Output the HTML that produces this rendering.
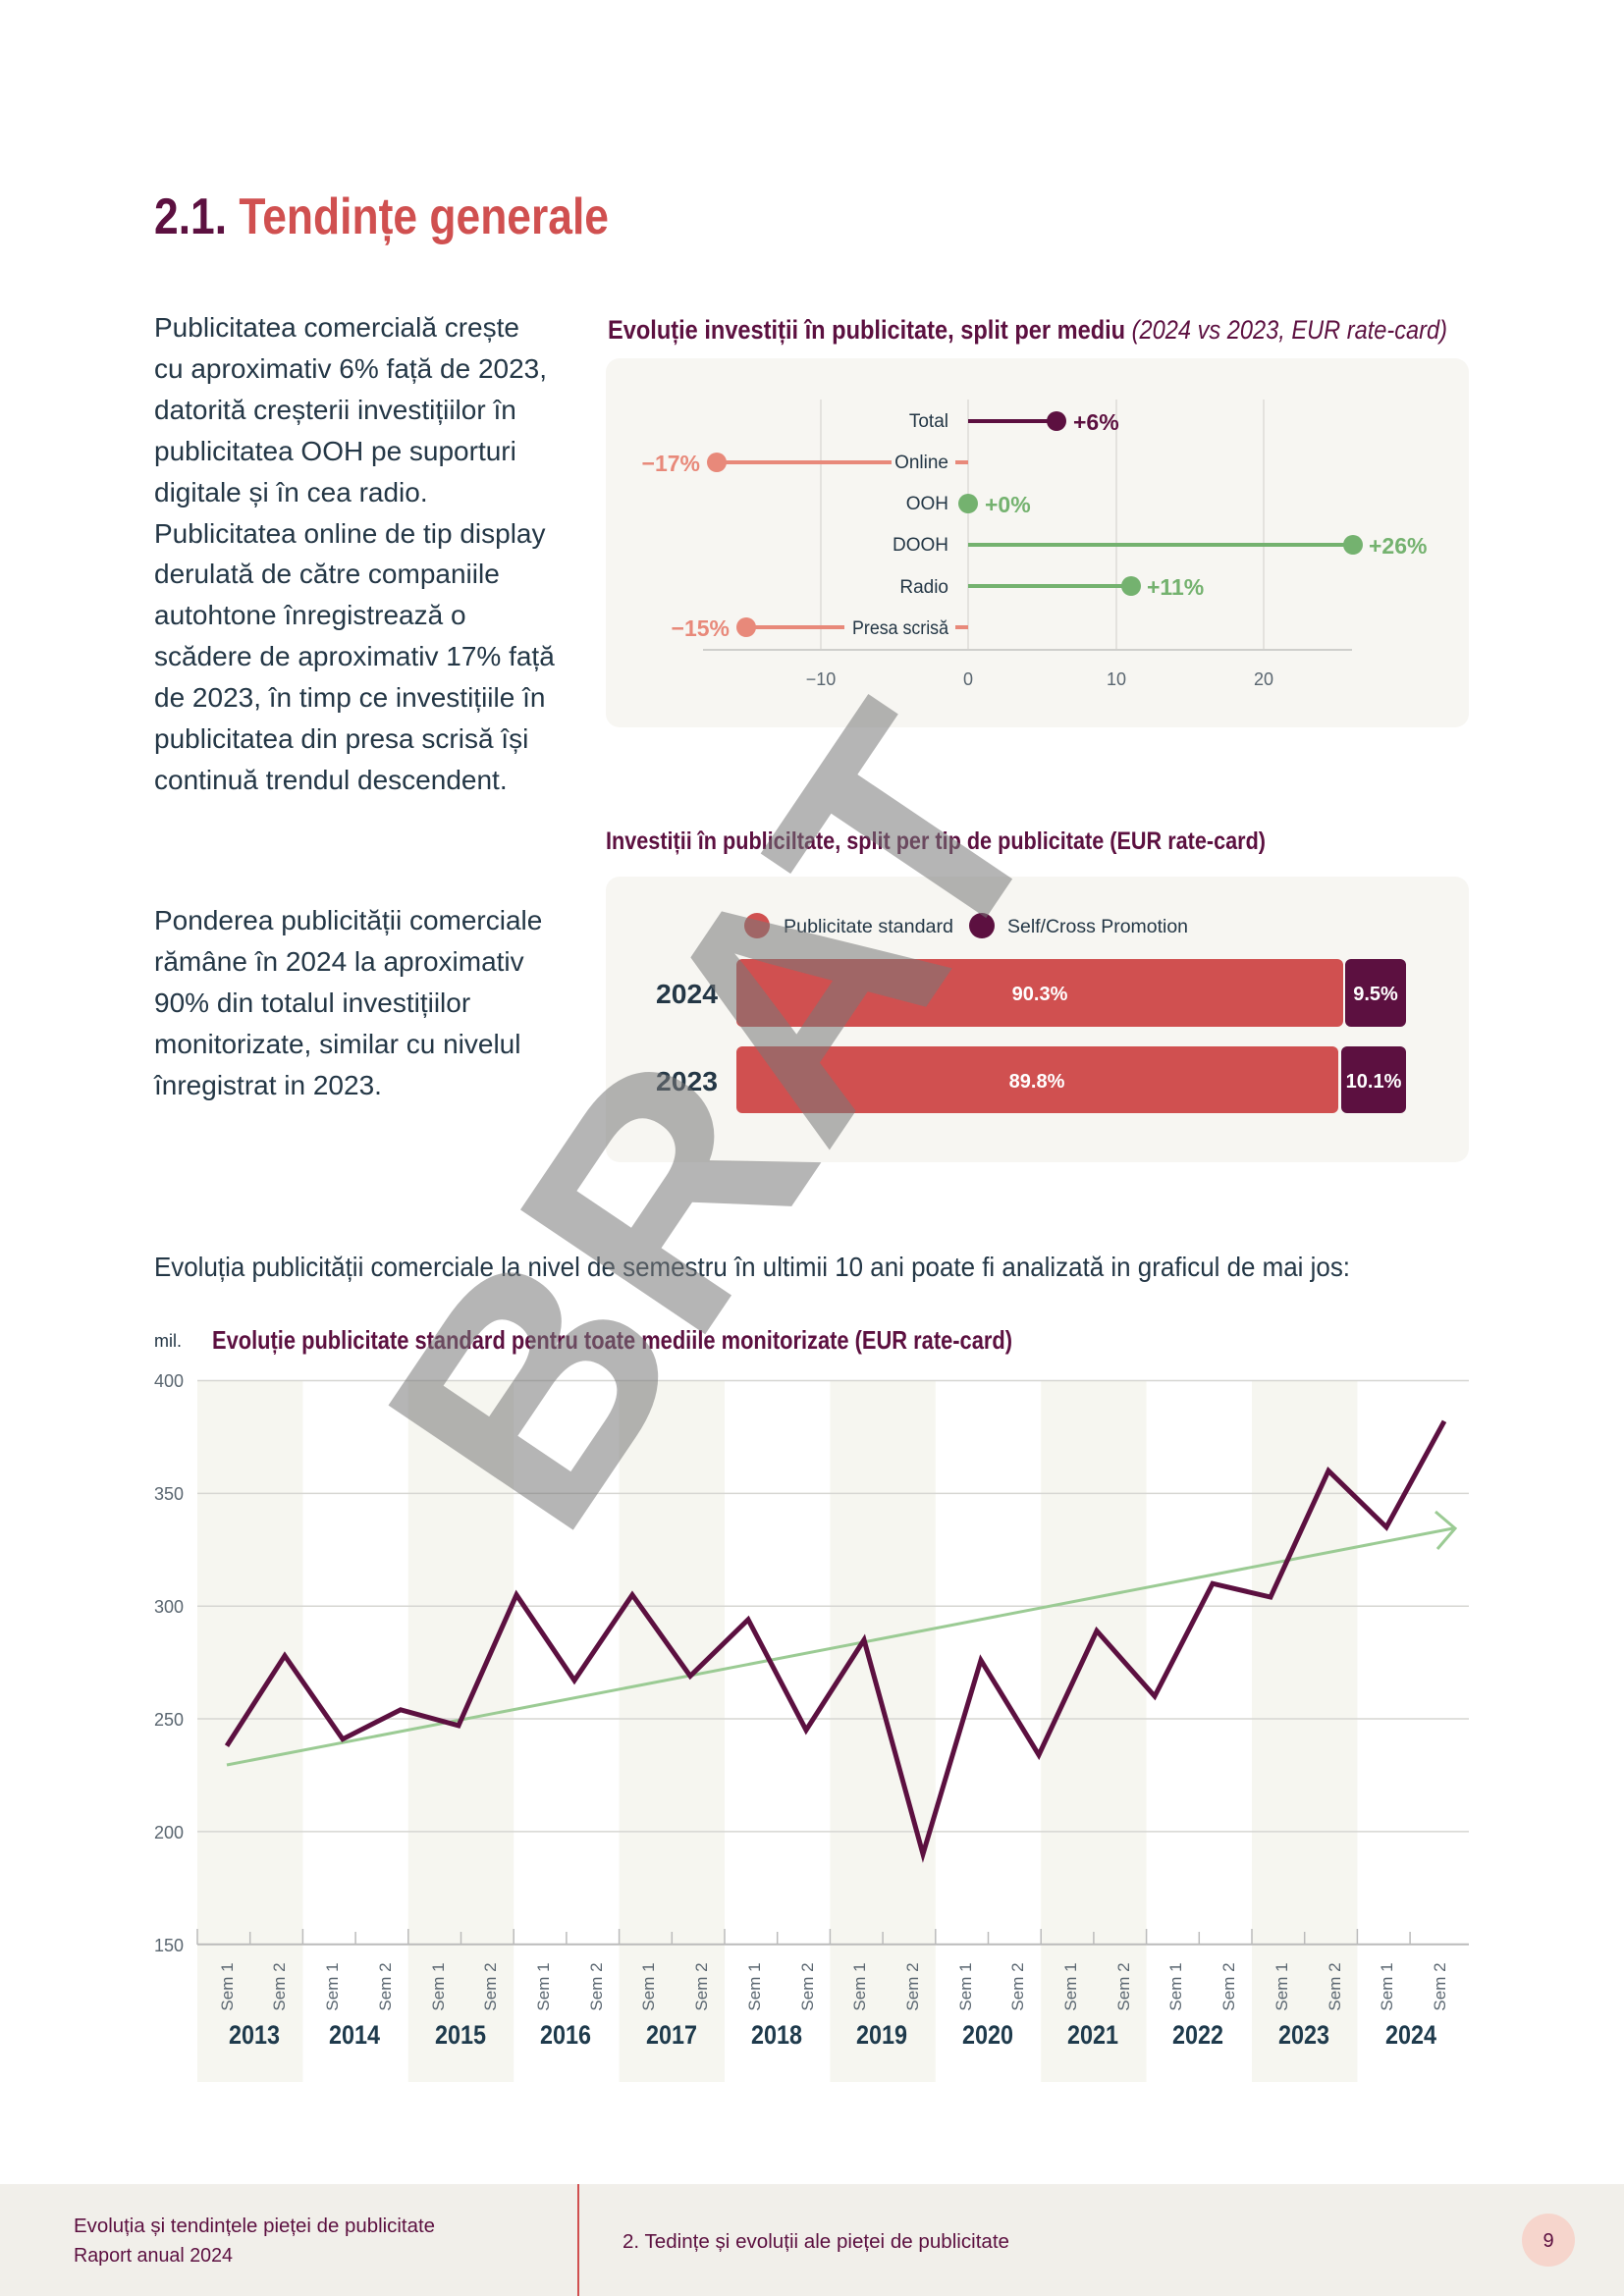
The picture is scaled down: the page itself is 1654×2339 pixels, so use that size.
<!DOCTYPE html>
<html><head><meta charset="utf-8"><style>
html,body{margin:0;padding:0;background:#fff}
svg{display:block}
text{font-family:"Liberation Sans Narrow","Liberation Sans",sans-serif}
</style></head><body>
<svg width="1654" height="2339" viewBox="0 0 1654 2339" xmlns="http://www.w3.org/2000/svg">
<text x="157" y="238" font-size="52" font-weight="bold" fill="#5c1040" textLength="463" lengthAdjust="spacingAndGlyphs">2.1. <tspan fill="#d05050">Tendințe generale</tspan></text>

<g font-size="28" fill="#243746">
<text x="157" y="343">Publicitatea comercială crește</text>
<text x="157" y="385">cu aproximativ 6% față de 2023,</text>
<text x="157" y="427">datorită creșterii investițiilor în</text>
<text x="157" y="469">publicitatea OOH pe suporturi</text>
<text x="157" y="511">digitale și în cea radio.</text>
<text x="157" y="553">Publicitatea online de tip display</text>
<text x="157" y="594">derulată de către companiile</text>
<text x="157" y="636">autohtone înregistrează o</text>
<text x="157" y="678">scădere de aproximativ 17% față</text>
<text x="157" y="720">de 2023, în timp ce investițiile în</text>
<text x="157" y="762">publicitatea din presa scrisă își</text>
<text x="157" y="804">continuă trendul descendent.</text>
<text x="157" y="947">Ponderea publicității comerciale</text>
<text x="157" y="989">rămâne în 2024 la aproximativ</text>
<text x="157" y="1031">90% din totalul investițiilor</text>
<text x="157" y="1073">monitorizate, similar cu nivelul</text>
<text x="157" y="1115">înregistrat in 2023.</text>
<text x="157" y="1300" textLength="1218" lengthAdjust="spacingAndGlyphs">Evoluția publicității comerciale la nivel de semestru în ultimii 10 ani poate fi analizată in graficul de mai jos:</text>
</g>

<text x="619" y="345" font-size="27" fill="#5c1040" font-weight="bold" textLength="855" lengthAdjust="spacingAndGlyphs">Evoluție investiții în publicitate, split per mediu <tspan font-weight="normal" font-style="italic">(2024 vs 2023, EUR rate-card)</tspan></text>
<rect x="617" y="365" width="879" height="376" rx="14" fill="#f7f6f2"/>
<g stroke="#dddcd8" stroke-width="1.5">
<line x1="836" y1="407" x2="836" y2="662"/><line x1="986" y1="407" x2="986" y2="662"/>
<line x1="1137" y1="407" x2="1137" y2="662"/><line x1="1287" y1="407" x2="1287" y2="662"/>
</g>
<line x1="716" y1="662" x2="1377" y2="662" stroke="#cfcfcc" stroke-width="2"/>
<g font-size="18" fill="#5a6670" text-anchor="middle">
<text x="836" y="698">−10</text><text x="986" y="698">0</text><text x="1137" y="698">10</text><text x="1287" y="698">20</text>
</g>
<g font-size="19" fill="#243746" text-anchor="end">
<text x="966" y="435">Total</text><text x="966" y="477">Online</text><text x="966" y="519">OOH</text>
<text x="966" y="561">DOOH</text><text x="966" y="604">Radio</text><text x="966" y="646" textLength="98" lengthAdjust="spacingAndGlyphs">Presa scrisă</text>
</g>
<line x1="986" y1="429" x2="1076" y2="429" stroke="#5c1040" stroke-width="4"/>
<circle cx="1076" cy="429" r="10" fill="#5c1040"/>
<text x="1093" y="438" font-size="23" font-weight="bold" fill="#5c1040">+6%</text>
<line x1="730" y1="471" x2="908" y2="471" stroke="#e8897a" stroke-width="4"/>
<line x1="973" y1="471" x2="986" y2="471" stroke="#e8897a" stroke-width="4"/>
<circle cx="730" cy="471" r="10" fill="#e8897a"/>
<text x="713" y="480" font-size="23" font-weight="bold" fill="#e8897a" text-anchor="end">−17%</text>
<circle cx="986" cy="513" r="10" fill="#74b26f"/>
<text x="1003" y="522" font-size="23" font-weight="bold" fill="#74b26f">+0%</text>
<line x1="986" y1="555" x2="1378" y2="555" stroke="#74b26f" stroke-width="4"/>
<circle cx="1378" cy="555" r="10" fill="#74b26f"/>
<text x="1394" y="564" font-size="23" font-weight="bold" fill="#74b26f">+26%</text>
<line x1="986" y1="597" x2="1152" y2="597" stroke="#74b26f" stroke-width="4"/>
<circle cx="1152" cy="597" r="10" fill="#74b26f"/>
<text x="1168" y="606" font-size="23" font-weight="bold" fill="#74b26f">+11%</text>
<line x1="760" y1="639" x2="860" y2="639" stroke="#e8897a" stroke-width="4"/>
<line x1="973" y1="639" x2="986" y2="639" stroke="#e8897a" stroke-width="4"/>
<circle cx="760" cy="639" r="10" fill="#e8897a"/>
<text x="743" y="648" font-size="23" font-weight="bold" fill="#e8897a" text-anchor="end">−15%</text>

<text x="617" y="865" font-size="25" font-weight="bold" fill="#5c1040" textLength="672" lengthAdjust="spacingAndGlyphs">Investiții în publiciltate, split per tip de publicitate (EUR rate-card)</text>
<rect x="617" y="893" width="879" height="291" rx="14" fill="#f7f6f2"/>
<circle cx="771" cy="943" r="13" fill="#d05050"/>
<text x="798" y="950" font-size="19" fill="#243746" textLength="173" lengthAdjust="spacingAndGlyphs">Publicitate standard</text>
<circle cx="1000" cy="943" r="13" fill="#5c1040"/>
<text x="1026" y="950" font-size="19" fill="#243746" textLength="184" lengthAdjust="spacingAndGlyphs">Self/Cross Promotion</text>
<text x="668" y="1022" font-size="28" font-weight="bold" fill="#243746" textLength="63" lengthAdjust="spacingAndGlyphs">2024</text>
<text x="668" y="1111" font-size="28" font-weight="bold" fill="#243746" textLength="63" lengthAdjust="spacingAndGlyphs">2023</text>
<rect x="750" y="977" width="618" height="69" rx="6" fill="#d05050"/>
<rect x="1370" y="977" width="62" height="69" rx="6" fill="#5c1040"/>
<rect x="750" y="1066" width="613" height="68" rx="6" fill="#d05050"/>
<rect x="1366" y="1066" width="66" height="68" rx="6" fill="#5c1040"/>
<g font-size="20" font-weight="bold" fill="#fff" text-anchor="middle">
<text x="1059" y="1019">90.3%</text><text x="1401" y="1019">9.5%</text>
<text x="1056" y="1108">89.8%</text><text x="1399" y="1108">10.1%</text>
</g>

<text x="157" y="1372" font-size="18" fill="#243746">mil.</text>
<text x="216" y="1374" font-size="26" font-weight="bold" fill="#5c1040" textLength="815" lengthAdjust="spacingAndGlyphs">Evoluție publicitate standard pentru toate mediile monitorizate (EUR rate-card)</text>
<g fill="#f6f6f0">
<rect x="201" y="1406" width="107.4" height="715"/>
<rect x="415.8" y="1406" width="107.4" height="715"/>
<rect x="630.6" y="1406" width="107.4" height="715"/>
<rect x="845.4" y="1406" width="107.4" height="715"/>
<rect x="1060.2" y="1406" width="107.4" height="715"/>
<rect x="1275" y="1406" width="107.4" height="715"/>
</g>
<g stroke="#d6d6d2" stroke-width="1.5">
<line x1="201" y1="1406.5" x2="1496" y2="1406.5"/><line x1="201" y1="1521.4" x2="1496" y2="1521.4"/>
<line x1="201" y1="1636.2" x2="1496" y2="1636.2"/><line x1="201" y1="1751" x2="1496" y2="1751"/>
<line x1="201" y1="1865.9" x2="1496" y2="1865.9"/>
</g>
<line x1="201" y1="1980.7" x2="1496" y2="1980.7" stroke="#bbb" stroke-width="2"/>
<g stroke="#bbb" stroke-width="1.5">
<line x1="201" y1="1965" x2="201" y2="1981"/><line x1="254.7" y1="1968" x2="254.7" y2="1981"/>
<line x1="308.4" y1="1965" x2="308.4" y2="1981"/><line x1="362.1" y1="1968" x2="362.1" y2="1981"/>
<line x1="415.8" y1="1965" x2="415.8" y2="1981"/><line x1="469.5" y1="1968" x2="469.5" y2="1981"/>
<line x1="523.2" y1="1965" x2="523.2" y2="1981"/><line x1="576.9" y1="1968" x2="576.9" y2="1981"/>
<line x1="630.6" y1="1965" x2="630.6" y2="1981"/><line x1="684.3" y1="1968" x2="684.3" y2="1981"/>
<line x1="738" y1="1965" x2="738" y2="1981"/><line x1="791.7" y1="1968" x2="791.7" y2="1981"/>
<line x1="845.4" y1="1965" x2="845.4" y2="1981"/><line x1="899.1" y1="1968" x2="899.1" y2="1981"/>
<line x1="952.8" y1="1965" x2="952.8" y2="1981"/><line x1="1006.5" y1="1968" x2="1006.5" y2="1981"/>
<line x1="1060.2" y1="1965" x2="1060.2" y2="1981"/><line x1="1113.9" y1="1968" x2="1113.9" y2="1981"/>
<line x1="1167.6" y1="1965" x2="1167.6" y2="1981"/><line x1="1221.3" y1="1968" x2="1221.3" y2="1981"/>
<line x1="1275" y1="1965" x2="1275" y2="1981"/><line x1="1328.7" y1="1968" x2="1328.7" y2="1981"/>
<line x1="1382.4" y1="1965" x2="1382.4" y2="1981"/><line x1="1436.1" y1="1968" x2="1436.1" y2="1981"/>
</g>
<g font-size="18" fill="#5a6670">
<text x="157" y="1413">400</text><text x="157" y="1528">350</text><text x="157" y="1643">300</text>
<text x="157" y="1758">250</text><text x="157" y="1873">200</text><text x="157" y="1988">150</text>
</g>
<g font-size="17" fill="#5a6670" text-anchor="middle">
<text transform="translate(237,2024) rotate(-90)">Sem 1</text><text transform="translate(290,2024) rotate(-90)">Sem 2</text>
<text transform="translate(344,2024) rotate(-90)">Sem 1</text><text transform="translate(398,2024) rotate(-90)">Sem 2</text>
<text transform="translate(452,2024) rotate(-90)">Sem 1</text><text transform="translate(505,2024) rotate(-90)">Sem 2</text>
<text transform="translate(559,2024) rotate(-90)">Sem 1</text><text transform="translate(613,2024) rotate(-90)">Sem 2</text>
<text transform="translate(666,2024) rotate(-90)">Sem 1</text><text transform="translate(720,2024) rotate(-90)">Sem 2</text>
<text transform="translate(774,2024) rotate(-90)">Sem 1</text><text transform="translate(828,2024) rotate(-90)">Sem 2</text>
<text transform="translate(881,2024) rotate(-90)">Sem 1</text><text transform="translate(935,2024) rotate(-90)">Sem 2</text>
<text transform="translate(989,2024) rotate(-90)">Sem 1</text><text transform="translate(1042,2024) rotate(-90)">Sem 2</text>
<text transform="translate(1096,2024) rotate(-90)">Sem 1</text><text transform="translate(1150,2024) rotate(-90)">Sem 2</text>
<text transform="translate(1203,2024) rotate(-90)">Sem 1</text><text transform="translate(1257,2024) rotate(-90)">Sem 2</text>
<text transform="translate(1311,2024) rotate(-90)">Sem 1</text><text transform="translate(1365,2024) rotate(-90)">Sem 2</text>
<text transform="translate(1418,2024) rotate(-90)">Sem 1</text><text transform="translate(1472,2024) rotate(-90)">Sem 2</text>
</g>
<g font-size="27" font-weight="bold" fill="#1e3a4c" text-anchor="middle">
<text x="259" y="2082" textLength="52" lengthAdjust="spacingAndGlyphs">2013</text><text x="361" y="2082" textLength="52" lengthAdjust="spacingAndGlyphs">2014</text><text x="469" y="2082" textLength="52" lengthAdjust="spacingAndGlyphs">2015</text>
<text x="576" y="2082" textLength="52" lengthAdjust="spacingAndGlyphs">2016</text><text x="684" y="2082" textLength="52" lengthAdjust="spacingAndGlyphs">2017</text><text x="791" y="2082" textLength="52" lengthAdjust="spacingAndGlyphs">2018</text>
<text x="898" y="2082" textLength="52" lengthAdjust="spacingAndGlyphs">2019</text><text x="1006" y="2082" textLength="52" lengthAdjust="spacingAndGlyphs">2020</text><text x="1113" y="2082" textLength="52" lengthAdjust="spacingAndGlyphs">2021</text>
<text x="1220" y="2082" textLength="52" lengthAdjust="spacingAndGlyphs">2022</text><text x="1328" y="2082" textLength="52" lengthAdjust="spacingAndGlyphs">2023</text><text x="1437" y="2082" textLength="52" lengthAdjust="spacingAndGlyphs">2024</text>
</g>
<line x1="231" y1="1798" x2="1480" y2="1557" stroke="#9bcb94" stroke-width="3"/>
<polyline points="1462,1540 1482,1557 1464,1578" fill="none" stroke="#9bcb94" stroke-width="3"/>
<polyline fill="none" stroke="#5c1040" stroke-width="5" points="231,1778.6 290,1686.7 349,1771.7 408,1741.8 467,1757.9 526,1624.7 585,1711.9 644,1624.7 703,1707.4 762,1649.9 821,1762.5 880,1670.6 940,1888.8 999,1691.3 1058,1787.8 1117,1661.4 1176,1728 1235,1613.2 1294,1627 1353,1498.3 1412,1555.8 1471,1447.8"/>

<text transform="translate(728,1140) rotate(-56)" text-anchor="middle" dominant-baseline="central" font-family="Liberation Sans,sans-serif" font-size="330" font-weight="bold" fill="rgba(120,120,120,0.55)" textLength="900" lengthAdjust="spacingAndGlyphs">BRAT</text>

<rect x="0" y="2225" width="1654" height="114" fill="#f1efea"/>
<line x1="589" y1="2225" x2="589" y2="2339" stroke="#d05050" stroke-width="2"/>
<text x="75" y="2274" font-size="20" fill="#5c1040" textLength="368" lengthAdjust="spacingAndGlyphs">Evoluția și tendințele pieței de publicitate</text>
<text x="75" y="2304" font-size="20" fill="#5c1040" textLength="162" lengthAdjust="spacingAndGlyphs">Raport anual 2024</text>
<text x="634" y="2290" font-size="20" fill="#5c1040" textLength="394" lengthAdjust="spacingAndGlyphs">2.  Tedințe și evoluții ale pieței de publicitate</text>
<circle cx="1577" cy="2282" r="27" fill="#f6d5cc"/>
<text x="1577" y="2289" font-size="20" fill="#5c1040" text-anchor="middle">9</text>
</svg>
</body></html>
